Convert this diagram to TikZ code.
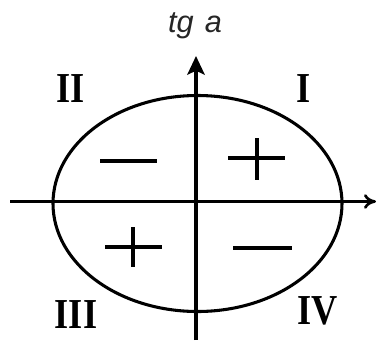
\documentclass[tikz,border=0pt]{standalone}
\usepackage{fontspec}
\setmainfont{Liberation Serif}
\newfontfamily\labelsans{Liberation Sans}
\usetikzlibrary{arrows.meta}
\newcommand{\quadtext}[1]{\scalebox{0.85}[1]{#1}}
\begin{document}
\begin{tikzpicture}[x=0.75pt,y=-0.75pt,
  axisline/.style={line width=2.6pt},
  signline/.style={line width=2.4pt},
  quadlabel/.style={font=\fontsize{32}{34}\selectfont\bfseries, inner sep=0pt},
  axislabel/.style={font=\labelsans\itshape\fontsize{23}{26}\selectfont, inner sep=0pt, text=black!85}]
\useasboundingbox (0,0) rectangle (379,340);
% axes
\coordinate (xl) at (10,201.5);
\coordinate (xr) at (376,201.5);
\coordinate (yb) at (196,340);
\coordinate (yt) at (196,56);
\draw[axisline,-{To[length=9pt,width=11pt,line width=2pt]}] (xl) -- (xr);
\draw[axisline,-{Stealth[length=14pt,width=13pt,inset=3pt]}] (yb) -- (yt);
% ellipse
\coordinate (ec) at (197.5,203.5);
\draw[line width=2.3pt] (ec) ellipse [x radius=144.5, y radius=108];
% label
\node[axislabel] (tga) at (195,26) {tg\ \hspace{2pt}a};
% quadrant labels
\node[quadlabel] (qII) at (71,89) {\quadtext{II}};
\node[quadlabel] (qI) at (304,89) {\quadtext{I}};
\node[quadlabel] (qIII) at (76,315) {\quadtext{III}};
\node[quadlabel] (qIV) at (318,311) {\quadtext{IV}};
% signs
\draw[signline] (228,158) -- (285,158);
\draw[signline] (257,138) -- (257,180);
\draw[signline] (100,161) -- (157,161);
\draw[signline] (105,247) -- (162,247);
\draw[signline] (133,227) -- (133,267);
\draw[signline] (233,248) -- (292,248);
\end{tikzpicture}
\end{document}
